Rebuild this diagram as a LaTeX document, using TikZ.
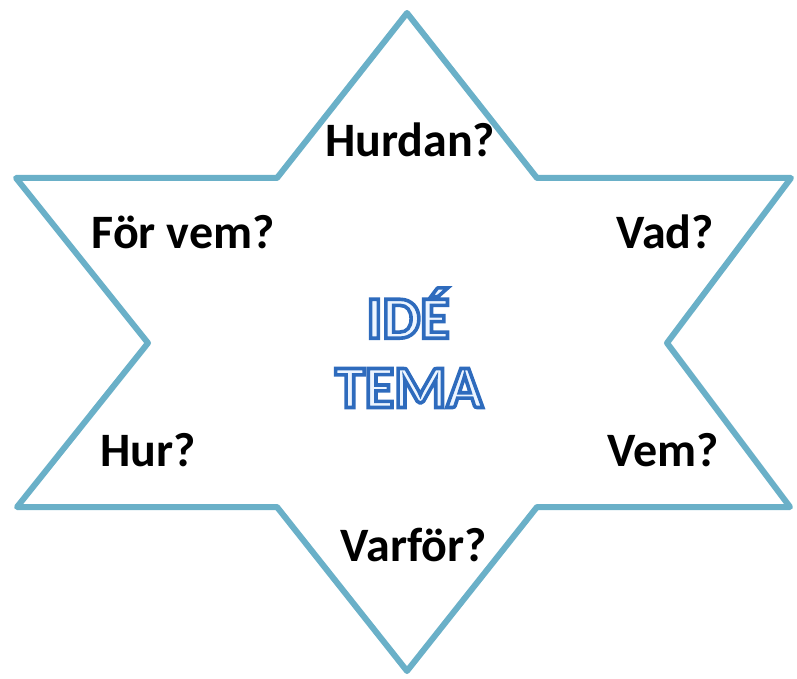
\documentclass[tikz,border=0pt]{standalone}
\usepackage{fontspec}
\setmainfont{Carlito}
\newfontfamily\ideafont[FakeBold=6]{Carlito Bold}
\usetikzlibrary{shadows}

\definecolor{starblue}{RGB}{106,176,200}

\tikzset{
  star/.style={draw=starblue, line width=6pt, line join=round, fill=white,
    drop shadow={opacity=0.3, shadow xshift=0.8pt, shadow yshift=-2pt}},
  question/.style={font=\bfseries\fontsize{48}{52}\selectfont, text=black, inner sep=0pt},
  theme/.style={font=\ideafont\fontsize{60}{64}\selectfont, inner sep=0pt}
}
% white letters drawn with a blue outline
\newcommand{\ideatext}[1]{\special{pdf:bc [0.93 0.96 1] [0.18 0.42 0.74]}#1\special{pdf:ec}}

\begin{document}
\begin{tikzpicture}[x=1pt, y=-1pt]
  \useasboundingbox (0,0) rectangle (797,679);
  % points of the star
  \coordinate (top) at (407,13);
  \coordinate (ul) at (16,178);
  \coordinate (uli) at (277,178);
  \coordinate (uri) at (537,178);
  \coordinate (ur) at (791,178);
  \coordinate (ri) at (667,343);
  \coordinate (lr) at (790,507);
  \coordinate (lri) at (537,507);
  \coordinate (bottom) at (407,671);
  \coordinate (lli) at (277,507);
  \coordinate (ll) at (17,507);
  \coordinate (li) at (148,343);
  \draw[star] (top) -- (uri) -- (ur) -- (ri) -- (lr) -- (lri) -- (bottom)
    -- (lli) -- (ll) -- (li) -- (ul) -- (uli) -- cycle;

  \node[question] (hurdan) at (410,140) {Hurdan?};
  \node[question] (forvem) at (183,232) {För vem?};
  \node[question] (vad) at (665,232) {Vad?};
  \node[question] (hur) at (148,450) {Hur?};
  \node[question] (vem) at (663,450) {Vem?};
  \node[question] (varfor) at (414,545) {Varför?};

  \node[theme] (ide) at (408,313) {\ideatext{IDÉ}};
  \node[theme] (tema) at (409,388) {\ideatext{TEMA}};
\end{tikzpicture}
\end{document}
